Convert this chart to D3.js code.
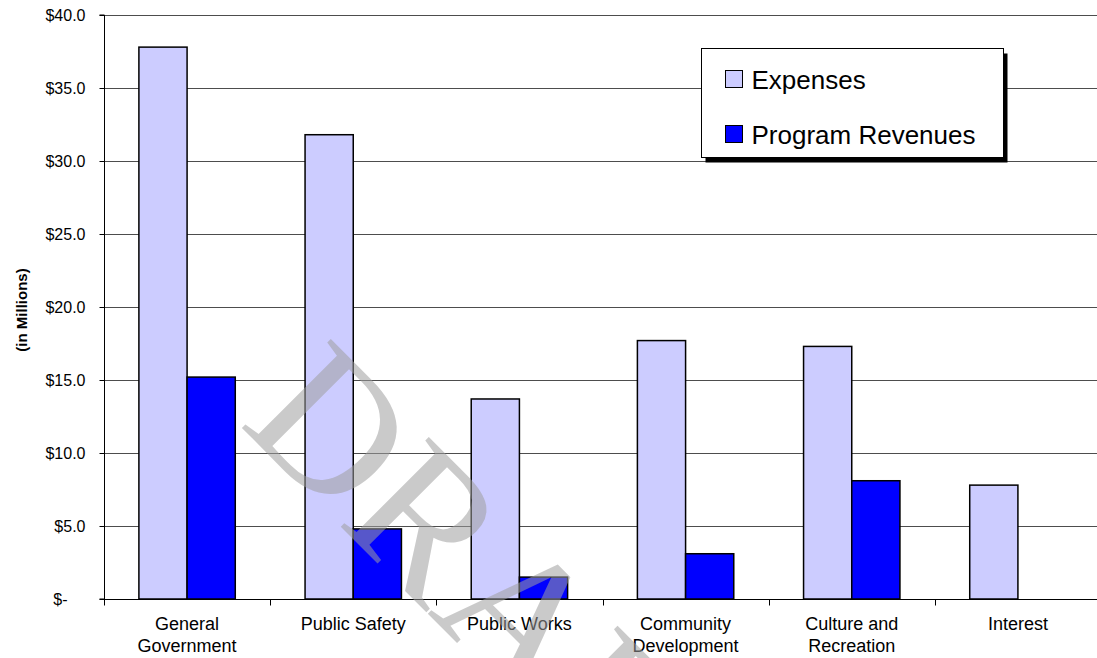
<!DOCTYPE html>
<html>
<head>
<meta charset="utf-8">
<script src="https://cdn.jsdelivr.net/npm/d3@7"></script>
<style>
  html, body { margin: 0; padding: 0; background: #fff; }
  svg { display: block; }
</style>
</head>
<body>
<script>
const categories = [["General", "Government"], ["Public Safety"], ["Public Works"], ["Community", "Development"], ["Culture and", "Recreation"], ["Interest"]];
const seriesNames = ["Expenses", "Program Revenues"];
const expenses = [37.8, 31.8, 13.7, 17.7, 17.3, 7.8];
const programRevenues = [15.2, 4.8, 1.5, 3.1, 8.1, 0];
const tickValues = [0, 5, 10, 15, 20, 25, 30, 35, 40];
const tickLabels = ["$-", "$5.0", "$10.0", "$15.0", "$20.0", "$25.0", "$30.0", "$35.0", "$40.0"];
const colors = ["#ccccff", "#0000ff"];
const yTitle = "(in Millions)";
const watermark = "DRAFT";

(function () {
const W = 1097, H = 658;
const mLeft = 104, mRight = 1101, mTop = 15, mBottom = 599;
const catKeys = categories.map(c => c.join(" "));
const seriesValues = [expenses, programRevenues];

const svg = d3.select("body").append("svg").attr("width", W).attr("height", H);

const x0 = d3.scaleBand().domain(catKeys).range([mLeft, mRight]).padding(0);
const x1 = d3.scaleBand().domain(seriesNames)
  .range([x0.bandwidth() * 0.21, x0.bandwidth() * 0.79]).padding(0);
const y = d3.scaleLinear().domain([0, 40]).range([mBottom, mTop]);

// gridlines
svg.append("g").selectAll("line").data(tickValues.filter(v => v > 0)).join("line")
  .attr("x1", mLeft).attr("x2", W)
  .attr("y1", d => Math.round(y(d)) + 0.5).attr("y2", d => Math.round(y(d)) + 0.5)
  .attr("stroke", "#4d4d4d").attr("stroke-width", 1);

// bars
const rows = [];
catKeys.forEach((c, i) => seriesNames.forEach((s, j) => {
  if (seriesValues[j][i] > 0) rows.push({ c, s, j, v: seriesValues[j][i] });
}));
svg.append("g").selectAll("rect").data(rows).join("rect")
  .attr("x", d => x0(d.c) + x1(d.s))
  .attr("y", d => y(d.v))
  .attr("width", x1.bandwidth())
  .attr("height", d => y(0) - y(d.v))
  .attr("fill", d => colors[d.j])
  .attr("stroke", "#000").attr("stroke-width", 1.5);

// y axis
const yAxis = d3.axisLeft(y).tickValues(tickValues).tickSize(5).tickPadding(14)
  .tickFormat((d, i) => tickLabels[i]);
const gy = svg.append("g").attr("transform", `translate(${mLeft + 0.5},0)`).call(yAxis);
gy.select(".domain").attr("stroke", "#000").attr("d", `M-5,${mTop}H0V${mBottom}H-5`);
gy.selectAll(".tick line").attr("stroke", "#000");
gy.selectAll(".tick text")
  .attr("font-family", "Liberation Sans, Arial, sans-serif")
  .attr("font-size", "16px").attr("fill", "#000")
  .attr("dx", d => d === 0 ? -18 : 0);

// x axis
const gx = svg.append("g").attr("transform", `translate(0,${mBottom + 0.5})`);
gx.append("line").attr("x1", mLeft).attr("x2", W).attr("stroke", "#000");
const bounds = catKeys.map(c => x0(c)).concat([mRight]);
gx.selectAll("line.tk").data(bounds).join("line").attr("class", "tk")
  .attr("x1", d => Math.round(d) + 0.5).attr("x2", d => Math.round(d) + 0.5)
  .attr("y1", 0).attr("y2", 6).attr("stroke", "#000");
const labels = gx.selectAll("text").data(categories).join("text")
  .attr("text-anchor", "middle")
  .attr("font-family", "Liberation Sans, Arial, sans-serif")
  .attr("font-size", "18px").attr("fill", "#000")
  .attr("transform", (d, i) => `translate(${x0(catKeys[i]) + x0.bandwidth() / 2},${30.5})`);
labels.selectAll("tspan").data(d => d).join("tspan")
  .attr("x", 0).attr("dy", (d, i) => i === 0 ? 0 : 22).text(d => d);

// y title
svg.append("text")
  .attr("transform", `translate(27,${(mTop + mBottom) / 2 + 3}) rotate(-90)`)
  .attr("text-anchor", "middle")
  .attr("font-family", "Liberation Sans, Arial, sans-serif")
  .attr("font-size", "15px").attr("font-weight", "bold").attr("fill", "#000")
  .text(yTitle);

// legend
const lg = svg.append("g").attr("transform", "translate(701.5,48.5)");
lg.append("rect").attr("x", 4).attr("y", 5).attr("width", 302).attr("height", 109).attr("fill", "#000");
lg.append("rect").attr("width", 302).attr("height", 109).attr("fill", "#fff").attr("stroke", "#000").attr("stroke-width", 1);
const items = lg.selectAll("g.it").data(seriesNames).join("g").attr("class", "it")
  .attr("transform", (d, i) => `translate(24,${22 + i * 55})`);
items.append("rect").attr("width", 17).attr("height", 17)
  .attr("fill", (d, i) => colors[i]).attr("stroke", "#000").attr("stroke-width", 1);
items.append("text").attr("x", 26).attr("y", 18)
  .attr("font-family", "Liberation Sans, Arial, sans-serif")
  .attr("font-size", "26px").attr("fill", "#000").text(d => d);

// watermark
svg.append("text")
  .attr("transform", "translate(238,424) rotate(45)")
  .attr("font-family", "Liberation Serif, Times New Roman, serif")
  .attr("font-size", "192px")
  .attr("fill", "#9e9e9e").attr("fill-opacity", 0.55)
  .text(watermark);
})();
</script>
</body>
</html>
